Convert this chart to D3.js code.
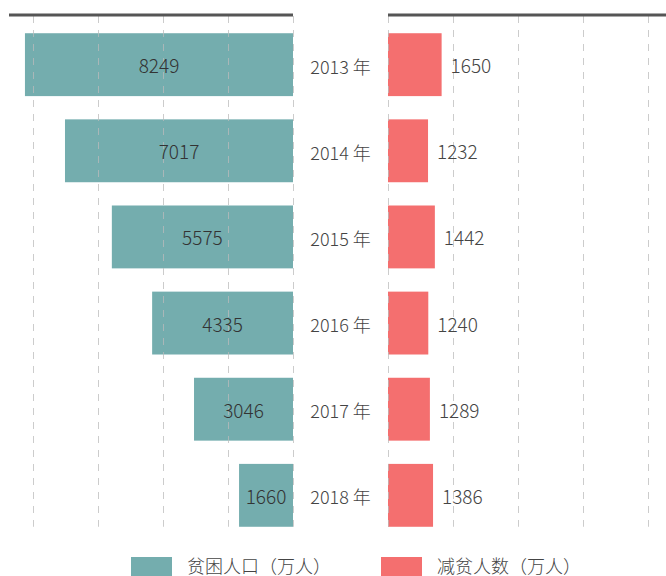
<!DOCTYPE html>
<html>
  <head>
    <meta charset="UTF-8" />
    <title>贫困人口与减贫人数</title>
    <script src="https://d3js.org/d3.v7.min.js"></script>
    <style>
      body {
        margin: 0;
        background-color: #fff;
      }
      svg text {
        font-family: "Noto Sans CJK SC", "Noto Sans", sans-serif;
        font-weight: 300;
        fill: #444;
      }
    </style>
  </head>
  <body>
    <div id="chart"></div>
    <script>
      const years = ["2013 年", "2014 年", "2015 年", "2016 年", "2017 年", "2018 年"];
      const poor = [8249, 7017, 5575, 4335, 3046, 1660];
      const reduced = [1650, 1232, 1442, 1240, 1289, 1386];
      const gridTicks = [0, 2000, 4000, 6000, 8000];
      const legendLabels = ["贫困人口（万人）", "减贫人数（万人）"];

      const width = 666;
      const height = 576;
      const teal = "#74adae";
      const red = "#f46f6f";

      const svg = d3
        .select("#chart")
        .append("svg")
        .attr("width", width)
        .attr("height", height);

      // both panels share the same px per unit
      const xL = d3.scaleLinear().domain([0, 8740]).range([293, 9]);
      const xR = d3.scaleLinear().domain([0, 8555]).range([388, 666]);

      const y = d3
        .scaleBand()
        .domain(years)
        .range([16, 544])
        .paddingInner(0.27)
        .paddingOuter(0.2);

      const gridTop = 16;
      const gridBottom = y(years[years.length - 1]) + y.bandwidth();

      // bars
      svg
        .append("g")
        .selectAll("rect")
        .data(poor)
        .enter()
        .append("rect")
        .attr("x", (d) => xL(d))
        .attr("y", (d, i) => y(years[i]))
        .attr("width", (d) => xL(0) - xL(d))
        .attr("height", y.bandwidth())
        .attr("fill", teal);

      svg
        .append("g")
        .selectAll("rect")
        .data(reduced)
        .enter()
        .append("rect")
        .attr("x", xR(0))
        .attr("y", (d, i) => y(years[i]))
        .attr("width", (d) => xR(d) - xR(0))
        .attr("height", y.bandwidth())
        .attr("fill", red);

      // dashed grid, drawn over the bars
      [xL, xR].forEach((x) => {
        svg
          .append("g")
          .selectAll("line")
          .data(gridTicks)
          .enter()
          .append("line")
          .attr("x1", (d) => Math.round(x(d)) + 0.5)
          .attr("x2", (d) => Math.round(x(d)) + 0.5)
          .attr("y1", gridTop)
          .attr("y2", gridBottom)
          .attr("stroke", "#bbb")
          .attr("stroke-opacity", 0.75)
          .attr("stroke-dasharray", "7,7");
      });

      // top axis lines
      [xL, xR].forEach((x) => {
        svg
          .append("line")
          .attr("x1", x.range()[0])
          .attr("x2", x.range()[1])
          .attr("y1", 15)
          .attr("y2", 15)
          .attr("stroke", "#555")
          .attr("stroke-width", 3);
      });

      // value labels
      svg
        .append("g")
        .selectAll("text")
        .data(poor)
        .enter()
        .append("text")
        .attr("x", (d) => (xL(d) + xL(0)) / 2)
        .attr("y", (d, i) => y(years[i]) + y.bandwidth() / 2)
        .attr("dy", "0.45em")
        .attr("text-anchor", "middle")
        .style("font-size", "19px")
        .style("fill", "#333")
        .text((d) => d);

      svg
        .append("g")
        .selectAll("text")
        .data(reduced)
        .enter()
        .append("text")
        .attr("x", (d) => xR(d) + 9)
        .attr("y", (d, i) => y(years[i]) + y.bandwidth() / 2)
        .attr("dy", "0.45em")
        .style("font-size", "19px")
        .text((d) => d);

      // year labels between the panels
      svg
        .append("g")
        .selectAll("text")
        .data(years)
        .enter()
        .append("text")
        .attr("x", (xL(0) + xR(0)) / 2)
        .attr("y", (d) => y(d) + y.bandwidth() / 2)
        .attr("dy", "0.5em")
        .attr("text-anchor", "middle")
        .style("font-size", "18px")
        .text((d) => d);

      // legend
      const legend = svg
        .append("g")
        .selectAll("g")
        .data(legendLabels)
        .enter()
        .append("g")
        .attr("transform", (d, i) => `translate(${131 + i * 250},557)`);

      legend
        .append("rect")
        .attr("width", 41)
        .attr("height", 20)
        .attr("fill", (d, i) => (i === 0 ? teal : red));

      legend
        .append("text")
        .attr("x", 56)
        .attr("y", 9)
        .attr("dy", "0.38em")
        .style("font-size", "18px")
        .text((d) => d);
    </script>
  </body>
</html>
